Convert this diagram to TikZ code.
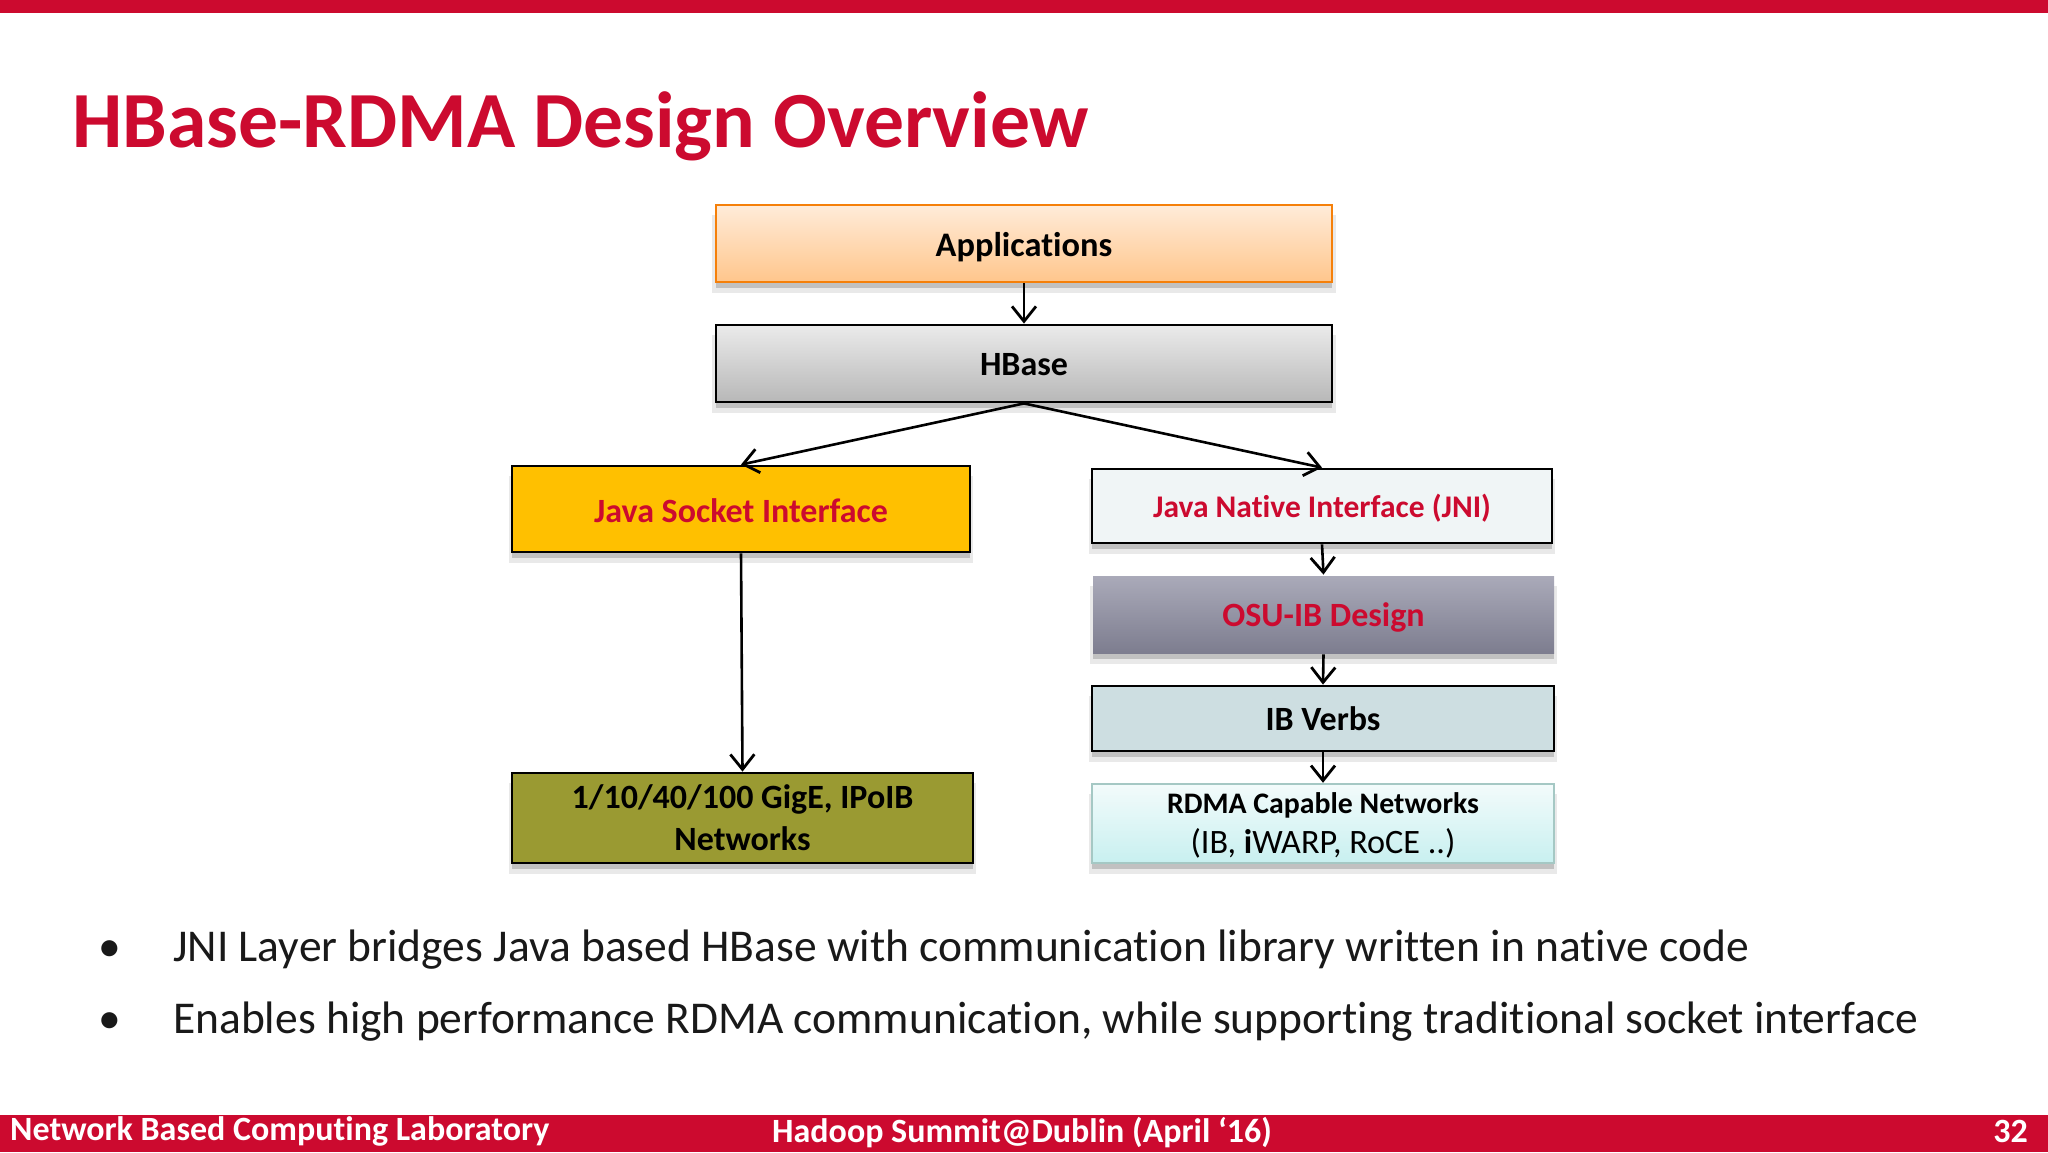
\documentclass[tikz,border=0pt]{standalone}
\usepackage{fontspec}
\setmainfont[Ligatures=NoCommon]{Carlito}
\usetikzlibrary{arrows.meta,shadows}
\definecolor{rd}{HTML}{CC0A2F}
\newcommand{\lowr}[2]{\raisebox{-#1pt}[\height][\depth]{#2}}
\tikzset{
  x=1pt,y=-1pt,
  box/.style={draw=black,line width=2.8pt,inner sep=0pt,align=center,text=black,font=\fontsize{34}{42}\selectfont\bfseries,
    general shadow={shadow xshift=0pt,shadow yshift=-10pt,shadow scale=1.012,opacity=.14,fill=black!60},
    general shadow={shadow xshift=0pt,shadow yshift=-6pt,opacity=.3,fill=black!60}},
  lnk/.style={draw=black,line width=2.6pt,-{Straight Barb[length=15pt,width=24pt,line width=2.8pt]}},
  strip/.style={fill=rd,draw=none},
  foot/.style={text=white,font=\fontsize{34}{36}\selectfont\bfseries,inner sep=0pt},
  bul/.style={text=black!90,font=\fontsize{45.5}{50}\selectfont,inner sep=0pt,anchor=base west},
}
\begin{document}
\begin{tikzpicture}
\useasboundingbox (0,0) rectangle (2048,1152);
\fill[white] (0,0) rectangle (2048,1152);
\fill[strip] (0,0) rectangle (2048,13);
\fill[strip] (0,1115) rectangle (2048,1152);
\node[anchor=base west,inner sep=0pt,text=rd,font=\fontsize{79.6}{84}\selectfont\bfseries] (title) at (72,147) {HBase-RDMA Design Overview};

\node[box,draw=orange!85!brown,line width=2.4pt,top color=orange!15,bottom color=orange!45,font=\fontsize{34.4}{42}\selectfont\bfseries,minimum width=616pt,minimum height=77pt] (app) at (1024,243.5) {\lowr{3.5}{Applications}};
\node[box,top color=black!8,bottom color=black!28,minimum width=616pt,minimum height=77pt] (hbase) at (1024,363.5) {\lowr{1.5}{HBase}};
\node[box,fill={rgb,255:red,255;green,192;blue,0},text=rd,minimum width=458pt,minimum height=86pt] (jsi) at (741,509) {\lowr{1.5}{Java Socket Interface}};
\node[box,fill={rgb,255:red,240;green,245;blue,246},text=rd,font=\fontsize{31.5}{40}\selectfont\bfseries,minimum width=460pt,minimum height=74pt] (jni) at (1322,506) {\lowr{2}{Java Native Interface (JNI)}};
\node[box,draw=none,top color={rgb,255:red,170;green,170;blue,185},bottom color={rgb,255:red,125;green,125;blue,143},text=rd,minimum width=461pt,minimum height=77pt] (osu) at (1323.5,614.5) {\lowr{2.5}{OSU-IB Design}};
\node[box,fill={rgb,255:red,205;green,222;blue,225},minimum width=462pt,minimum height=65pt] (ib) at (1323,718.5) {IB Verbs};
\node[box,draw={rgb,255:red,165;green,200;blue,196},line width=2.4pt,top color={rgb,255:red,243;green,251;blue,251},bottom color={rgb,255:red,200;green,240;blue,240},minimum width=462pt,minimum height=79pt,font=\fontsize{29.8}{39}\selectfont] (rdma) at (1323,823.5) {\lowr{1.5}{\bfseries RDMA Capable Networks}\\[0pt]\lowr{2.5}{\fontsize{34.2}{39}\selectfont\mdseries (IB, \textbf{i}WARP, RoCE ..)}};
\node[box,fill={rgb,255:red,154;green,154;blue,50},minimum width=461pt,minimum height=90pt] (gige) at (742.5,818) {1/10/40/100 GigE, IPoIB\\Networks};

\draw[lnk] (app.south) -- (hbase.north);
\draw[lnk] (hbase.south) -- (jsi.north);
\draw[lnk] (hbase.south) -- (jni.north);
\draw[lnk] (jsi.south) -- (gige.north);
\draw[lnk] (jni.south) -- (osu.north);
\draw[lnk] (osu.south) -- (ib.north);
\draw[lnk] (ib.south) -- (rdma.north);

\node[bul] (b1) at (98,961) {•};
\node[bul] (t1) at (173,961) {JNI Layer bridges Java based HBase with communication library written in native code};
\node[bul] (b2) at (98,1033) {•};
\node[bul] (t2) at (173,1033) {Enables high performance RDMA communication, while supporting traditional socket interface};

\node[foot,anchor=base west] (f1) at (10,1140) {Network Based Computing Laboratory};
\node[foot,anchor=base west] (f2) at (772,1142) {Hadoop Summit@Dublin (April ‘16)};
\node[foot,anchor=base east] (f3) at (2028,1142) {32};
\end{tikzpicture}
\end{document}
